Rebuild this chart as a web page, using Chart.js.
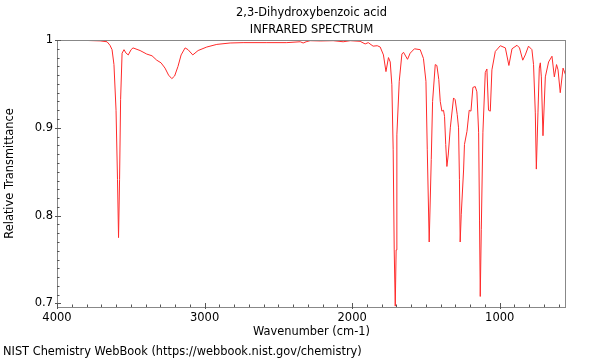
<!DOCTYPE html>
<html>
<head>
<meta charset="utf-8">
<script src="https://cdn.jsdelivr.net/npm/chart.js@4/dist/chart.umd.min.js"></script>
<style>
  body { margin: 0; background: #fff; }
  #wrap { width: 600px; height: 360px; }
</style>
</head>
<body>
<div id="wrap"><canvas id="ir_chart" width="600" height="360"></canvas></div>
<script>
// spectrum: wavenumber (cm-1) and relative transmittance
const wavenumbers = [
  4000, 3844, 3708, 3661, 3641, 3627, 3614, 3600, 3590, 3583, 3576, 3569, 3559, 3546, 3532, 3517,
  3498, 3485, 3437, 3392, 3356, 3324, 3295, 3268, 3244, 3222, 3203, 3180, 3159, 3132, 3112, 3080,
  3044, 2985, 2917, 2827, 2739, 2578, 2443, 2352, 2332, 2312, 2285, 2217, 2129, 2061, 2013, 1946,
  1912, 1891, 1858, 1830, 1810, 1788, 1771, 1754, 1742, 1731, 1722, 1715, 1708, 1702, 1697, 1681,
  1663, 1652, 1625, 1607, 1578, 1539, 1517, 1500, 1491, 1478, 1464, 1455, 1437, 1426, 1413, 1403,
  1392, 1381, 1374, 1366, 1358, 1349, 1335, 1313, 1302, 1288, 1279, 1273, 1268, 1261, 1245, 1239,
  1222, 1207, 1195, 1182, 1166, 1155, 1143, 1137, 1132, 1125, 1114, 1098, 1087, 1076, 1064, 1053,
  1030, 996, 962, 938, 917, 883, 866, 844, 827, 805, 782, 771, 759, 752, 741, 732,
  725, 718, 707, 691, 669, 646, 630, 615, 605, 590, 571, 551
];
const transmittance = [
  0.9994, 0.9997, 0.999, 0.998, 0.994, 0.989, 0.972, 0.920, 0.841, 0.775, 0.841, 0.932, 0.985, 0.989, 0.985, 0.983,
  0.989, 0.991, 0.988, 0.984, 0.982, 0.977, 0.974, 0.968, 0.960, 0.956, 0.959, 0.970, 0.983, 0.991, 0.989, 0.983,
  0.988, 0.992, 0.995, 0.9966, 0.997, 0.997, 0.997, 0.998, 0.9966, 0.998, 0.9992, 0.9989, 0.9992, 0.998, 0.9992, 0.9985,
  0.9955, 0.997, 0.993, 0.9935, 0.992, 0.983, 0.964, 0.980, 0.975, 0.949, 0.875, 0.761, 0.697, 0.761, 0.892, 0.953,
  0.984, 0.986, 0.978, 0.985, 0.990, 0.989, 0.979, 0.953, 0.875, 0.770, 0.864, 0.930, 0.972, 0.971, 0.955, 0.930,
  0.919, 0.920, 0.913, 0.881, 0.856, 0.869, 0.900, 0.934, 0.932, 0.915, 0.900, 0.841, 0.770, 0.801, 0.852, 0.881,
  0.896, 0.920, 0.919, 0.946, 0.947, 0.941, 0.895, 0.795, 0.708, 0.784, 0.895, 0.963, 0.967, 0.920, 0.919, 0.966,
  0.987, 0.9935, 0.991, 0.971, 0.990, 0.994, 0.991, 0.977, 0.983, 0.993, 0.989, 0.972, 0.917, 0.853, 0.917, 0.968,
  0.974, 0.958, 0.891, 0.958, 0.975, 0.9815, 0.958, 0.972, 0.966, 0.940, 0.968, 0.959
];

const xTicks = [4000, 3000, 2000, 1000];
const yTicks = [0.7, 0.8, 0.9, 1.0];

const titleLines = ['2,3-Dihydroxybenzoic acid', 'INFRARED SPECTRUM'];
const xTitle = 'Wavenumber (cm-1)';
const yTitle = 'Relative Transmittance';
const footer = 'NIST Chemistry WebBook (https://webbook.nist.gov/chemistry)';

const FONT = '11.4px "DejaVu Sans"';

// frame, tick marks and the loose texts
const decorations = {
  id: 'decorations',
  afterDraw(chart) {
    const {ctx, chartArea: a, scales} = chart;
    ctx.save();
    ctx.strokeStyle = '#888';
    ctx.lineWidth = 1;
    ctx.strokeRect(a.left + 0.5, a.top + 0.5, a.right - a.left - 1, a.bottom - a.top);

    ctx.strokeStyle = '#555';
    ctx.beginPath();
    for (let v = 600; v <= 4000; v += 100) {
      const px = Math.round(scales.x.getPixelForValue(v)) + 0.5;
      const major = v % 1000 === 0;
      ctx.moveTo(px, a.bottom + (major ? 2 : 0));
      ctx.lineTo(px, a.bottom - (major ? 4 : 2.5));
    }
    for (let i = 70; i <= 100; i++) {
      const py = Math.round(scales.y.getPixelForValue(i / 100)) + 0.5;
      const major = i % 10 === 0;
      ctx.moveTo(a.left - (major ? 2 : 0), py);
      ctx.lineTo(a.left + (major ? 4 : 2.5), py);
    }
    ctx.stroke();

    ctx.fillStyle = '#000';
    ctx.font = FONT;
    ctx.textBaseline = 'middle';
    ctx.textAlign = 'center';
    const cx = (a.left + a.right) / 2;
    ctx.fillText(titleLines[0], cx, 13);
    ctx.fillText(titleLines[1], cx, 30);
    ctx.fillText(xTitle, cx, 332);
    ctx.textAlign = 'left';
    ctx.fillText(footer, 3, 352);
    ctx.translate(10, (a.top + a.bottom) / 2);
    ctx.rotate(-Math.PI / 2);
    ctx.textAlign = 'center';
    ctx.fillText(yTitle, 0, 0);
    ctx.restore();
  }
};

const ctx = document.getElementById('ir_chart').getContext('2d');
new Chart(ctx, {
  type: 'line',
  data: {
    datasets: [{
      data: wavenumbers.map((w, i) => ({x: w, y: transmittance[i]})),
      borderColor: '#ff2a2a',
      borderWidth: 1,
      pointRadius: 0,
      tension: 0
    }]
  },
  options: {
    responsive: false,
    animation: false,
    devicePixelRatio: 1,
    layout: {padding: {top: 40, right: 34, left: 0, bottom: 0}},
    plugins: {legend: {display: false}, tooltip: {enabled: false}},
    scales: {
      x: {
        type: 'linear',
        reverse: true,
        min: 551,
        max: 4000,
        border: {display: false},
        grid: {display: false, drawTicks: false},
        afterBuildTicks: s => { s.ticks = xTicks.map(v => ({value: v})); },
        afterFit: s => { s.height = 53; },
        ticks: {color: '#000', font: {family: 'DejaVu Sans', size: 11.5}, padding: 4, maxRotation: 0,
          callback: v => String(v)}
      },
      y: {
        min: 0.696,
        max: 1.0,
        border: {display: false},
        grid: {display: false, drawTicks: false},
        afterBuildTicks: s => { s.ticks = yTicks.map(v => ({value: v})); },
        afterFit: s => { s.width = 57; },
        ticks: {color: '#000', font: {family: 'DejaVu Sans', size: 11.5}, padding: 4,
          callback: v => String(Math.round(v * 10) / 10)}
      }
    }
  },
  plugins: [decorations]
});
</script>
</body>
</html>
